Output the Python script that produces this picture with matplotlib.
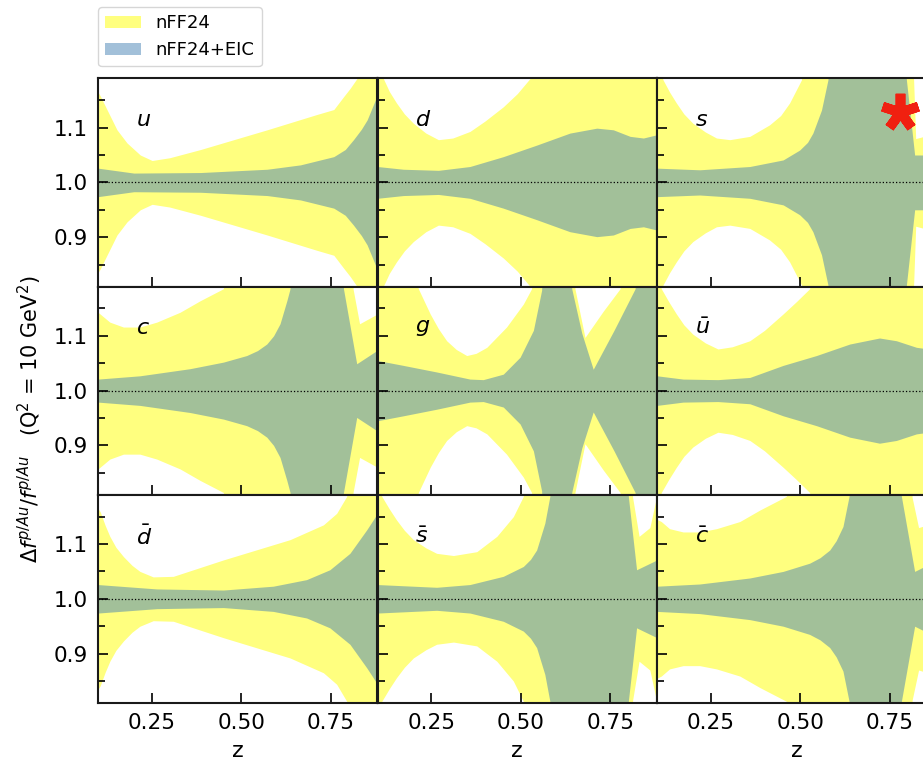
import numpy as np
import matplotlib.pyplot as plt
from matplotlib.ticker import MultipleLocator, FormatStrFormatter

# half widths of the ratio bands (band = 1 -/+ err)
# values of 0.5 mean the band runs off the plotted range

u_z_nff = [0.10, 0.107, 0.125, 0.153, 0.181, 0.218, 0.251, 0.30, 0.386, 0.572, 0.711, 0.758, 0.786, 0.804, 0.823, 0.85, 0.88]
u_nff = [0.165, 0.157, 0.133, 0.096, 0.072, 0.050, 0.040, 0.045, 0.060, 0.096, 0.124, 0.133, 0.157, 0.172, 0.19, 0.5, 0.5]
u_z_eic = [0.10, 0.20, 0.386, 0.572, 0.665, 0.758, 0.79, 0.813, 0.835, 0.851, 0.88]
u_eic = [0.026, 0.017, 0.018, 0.024, 0.032, 0.047, 0.060, 0.078, 0.097, 0.114, 0.16]

d_z_nff = [0.10, 0.116, 0.133, 0.153, 0.175, 0.20, 0.235, 0.27, 0.31, 0.358, 0.40, 0.451, 0.49, 0.526, 0.55, 0.88]
d_nff = [0.22, 0.19, 0.166, 0.145, 0.125, 0.108, 0.090, 0.078, 0.081, 0.093, 0.112, 0.138, 0.162, 0.19, 0.5, 0.5]
d_z_eic = [0.10, 0.172, 0.27, 0.358, 0.451, 0.544, 0.637, 0.712, 0.758, 0.805, 0.842, 0.88]
d_eic = [0.029, 0.024, 0.022, 0.029, 0.047, 0.068, 0.090, 0.099, 0.096, 0.084, 0.081, 0.087]

s_z_nff = [0.10, 0.117, 0.135, 0.154, 0.175, 0.20, 0.235, 0.266, 0.303, 0.359, 0.414, 0.445, 0.47, 0.503, 0.53, 0.80, 0.816, 0.822, 0.88]
s_nff = [0.22, 0.187, 0.165, 0.145, 0.125, 0.108, 0.092, 0.081, 0.078, 0.084, 0.105, 0.122, 0.145, 0.187, 0.5, 0.5, 0.19, 0.08, 0.09]
s_z_eic = [0.10, 0.219, 0.359, 0.452, 0.498, 0.52, 0.535, 0.559, 0.577, 0.60, 0.78, 0.796, 0.819, 0.88]
s_eic = [0.026, 0.023, 0.029, 0.041, 0.059, 0.073, 0.090, 0.132, 0.187, 0.5, 0.5, 0.187, 0.05, 0.05]

c_z_nff = [0.10, 0.133, 0.171, 0.217, 0.264, 0.329, 0.385, 0.45, 0.47, 0.80, 0.812, 0.83, 0.88]
c_nff = [0.143, 0.125, 0.116, 0.116, 0.125, 0.143, 0.164, 0.186, 0.5, 0.5, 0.185, 0.122, 0.14]
c_z_eic = [0.10, 0.217, 0.357, 0.45, 0.515, 0.545, 0.571, 0.59, 0.608, 0.627, 0.636, 0.66, 0.76, 0.785, 0.822, 0.878]
c_eic = [0.021, 0.027, 0.040, 0.052, 0.064, 0.073, 0.085, 0.100, 0.122, 0.164, 0.186, 0.5, 0.5, 0.186, 0.049, 0.073]

g_z_nff = [0.10, 0.214, 0.247, 0.27, 0.293, 0.32, 0.349, 0.375, 0.405, 0.46, 0.507, 0.53, 0.55, 0.64, 0.651, 0.679, 0.73, 0.777, 0.79, 0.88]
g_nff = [0.5, 0.186, 0.14, 0.113, 0.091, 0.075, 0.064, 0.068, 0.079, 0.116, 0.158, 0.186, 0.5, 0.5, 0.186, 0.097, 0.145, 0.186, 0.5, 0.5]
g_z_eic = [0.10, 0.172, 0.265, 0.358, 0.395, 0.451, 0.498, 0.535, 0.558, 0.58, 0.63, 0.642, 0.67, 0.702, 0.76, 0.819, 0.83, 0.88]
g_eic = [0.055, 0.046, 0.034, 0.021, 0.020, 0.030, 0.061, 0.110, 0.183, 0.5, 0.5, 0.186, 0.105, 0.039, 0.11, 0.186, 0.5, 0.5]

ub_z_nff = [0.10, 0.112, 0.133, 0.154, 0.175, 0.20, 0.235, 0.27, 0.31, 0.359, 0.40, 0.452, 0.49, 0.526, 0.55, 0.88]
ub_nff = [0.22, 0.186, 0.162, 0.14, 0.12, 0.103, 0.087, 0.076, 0.080, 0.091, 0.110, 0.14, 0.163, 0.186, 0.5, 0.5]
ub_z_eic = [0.10, 0.173, 0.27, 0.359, 0.452, 0.545, 0.638, 0.721, 0.768, 0.824, 0.88]
ub_eic = [0.027, 0.021, 0.020, 0.024, 0.046, 0.064, 0.085, 0.096, 0.091, 0.079, 0.074]

db_z_nff = [0.10, 0.106, 0.12, 0.133, 0.15, 0.171, 0.195, 0.217, 0.254, 0.31, 0.45, 0.636, 0.729, 0.766, 0.794, 0.82, 0.88]
db_nff = [0.165, 0.159, 0.134, 0.114, 0.094, 0.077, 0.061, 0.050, 0.040, 0.041, 0.071, 0.108, 0.135, 0.156, 0.187, 0.5, 0.5]
db_z_eic = [0.10, 0.264, 0.45, 0.589, 0.682, 0.747, 0.803, 0.85, 0.88]
db_eic = [0.026, 0.018, 0.016, 0.023, 0.035, 0.053, 0.083, 0.126, 0.156]

sb_z_nff = [0.10, 0.112, 0.133, 0.153, 0.175, 0.20, 0.235, 0.265, 0.312, 0.377, 0.433, 0.479, 0.507, 0.53, 0.80, 0.812, 0.83, 0.86, 0.88]
sb_nff = [0.22, 0.187, 0.164, 0.144, 0.125, 0.108, 0.093, 0.083, 0.079, 0.086, 0.114, 0.15, 0.187, 0.5, 0.5, 0.185, 0.114, 0.13, 0.19]
sb_z_eic = [0.10, 0.265, 0.358, 0.451, 0.507, 0.527, 0.544, 0.567, 0.581, 0.60, 0.78, 0.80, 0.823, 0.88]
sb_eic = [0.026, 0.021, 0.026, 0.041, 0.059, 0.072, 0.089, 0.138, 0.187, 0.5, 0.5, 0.187, 0.053, 0.071]

cb_z_nff = [0.10, 0.112, 0.135, 0.173, 0.219, 0.266, 0.331, 0.387, 0.461, 0.48, 0.80, 0.812, 0.83, 0.88]
cb_nff = [0.145, 0.141, 0.128, 0.122, 0.122, 0.128, 0.141, 0.162, 0.187, 0.5, 0.5, 0.185, 0.13, 0.14]
cb_z_eic = [0.10, 0.219, 0.359, 0.452, 0.526, 0.555, 0.582, 0.60, 0.619, 0.636, 0.66, 0.76, 0.782, 0.819, 0.88]
cb_eic = [0.023, 0.027, 0.038, 0.050, 0.065, 0.075, 0.089, 0.106, 0.132, 0.187, 0.5, 0.5, 0.187, 0.05, 0.07]

panels = [
    ('$u$', u_z_nff, u_nff, u_z_eic, u_eic),
    ('$d$', d_z_nff, d_nff, d_z_eic, d_eic),
    ('$s$', s_z_nff, s_nff, s_z_eic, s_eic),
    ('$c$', c_z_nff, c_nff, c_z_eic, c_eic),
    ('$g$', g_z_nff, g_nff, g_z_eic, g_eic),
    (r'$\bar{u}$', ub_z_nff, ub_nff, ub_z_eic, ub_eic),
    (r'$\bar{d}$', db_z_nff, db_nff, db_z_eic, db_eic),
    (r'$\bar{s}$', sb_z_nff, sb_nff, sb_z_eic, sb_eic),
    (r'$\bar{c}$', cb_z_nff, cb_nff, cb_z_eic, cb_eic),
]

W, H = 923, 765
fig = plt.figure(figsize=(W / 100, H / 100), dpi=100)

x0, pw = 98, 279.5
tops = [78.3, 286.5, 494.7]
ph = 208.2

axes = []
for i, (lab, zn, en, ze, ee) in enumerate(panels):
    r, c = divmod(i, 3)
    ax = fig.add_axes([(x0 + c * pw) / W, 1 - (tops[r] + ph) / H, pw / W, ph / H])
    zn, en = np.array(zn), np.array(en)
    ze, ee = np.array(ze), np.array(ee)
    ax.fill_between(zn, 1 - en, 1 + en, color='yellow', alpha=0.5, lw=0, label='nFF24')
    ax.fill_between(ze, 1 - ee, 1 + ee, color='steelblue', alpha=0.5, lw=0, label='nFF24+EIC')
    ax.axhline(1.0, color='k', ls=':', lw=0.9)
    ax.set_xlim(0.1, 0.88)
    ax.set_ylim(0.81, 1.19)
    ax.xaxis.set_major_locator(MultipleLocator(0.25))
    ax.xaxis.set_major_formatter(FormatStrFormatter('%.2f'))
    ax.yaxis.set_major_locator(MultipleLocator(0.1))
    ax.yaxis.set_minor_locator(MultipleLocator(0.05))
    ax.yaxis.set_major_formatter(FormatStrFormatter('%.1f'))
    ax.tick_params(which='both', direction='in', width=1.2, labelsize=15.5, pad=7)
    ax.tick_params(which='major', length=7)
    ax.tick_params(which='minor', length=5)
    for sp in ax.spines.values():
        sp.set_linewidth(1.5)
        sp.set_color('#1a1a1a')
    if c > 0:
        ax.tick_params(labelleft=False)
    if r < 2:
        ax.tick_params(labelbottom=False)
    else:
        ax.set_xlabel('z', fontsize=16, labelpad=6)
    ax.text(0.135, 0.80, lab, transform=ax.transAxes, fontsize=16, ha='left', va='center')
    axes.append(ax)

# red marker in the s panel
axes[2].plot(0.868, 0.836, marker=(5, 2, 0), ms=27, mew=7, color='#f02010',
             transform=axes[2].transAxes, clip_on=False)

fig.text(30 / W, 1 - 419 / H, r'$\Delta f^{p/Au}/f^{p/Au}$   (Q$^2$ = 10 GeV$^2$)',
         rotation=90, ha='center', va='center', fontsize=15)

handles, labels = axes[0].get_legend_handles_labels()
fig.legend(handles, labels, loc='upper left', bbox_to_anchor=(98 / W, 1 - 7 / H),
           fontsize=13, borderaxespad=0, frameon=True)

fig.savefig('out.png', dpi=100)
